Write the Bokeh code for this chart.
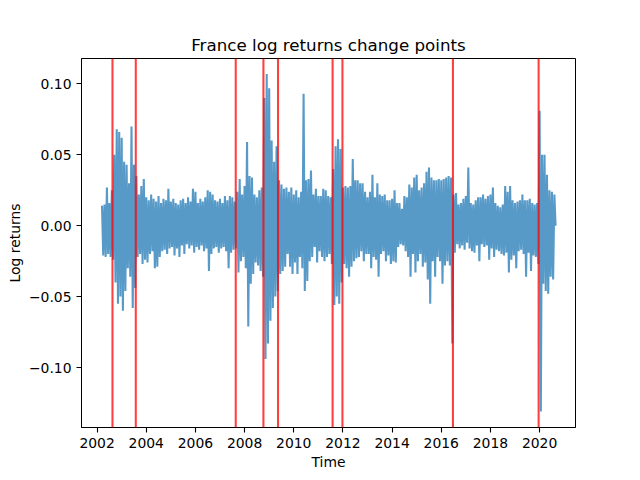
import numpy as np
from bokeh.plotting import figure
from bokeh.models import Range1d, FixedTicker, CustomJSTickFormatter, Span
from bokeh.embed import file_html
from bokeh.resources import INLINE

# ---------------- data ----------------
# Samples every 0.1 year starting at 2002.2; for each sample the upper and
# lower extreme of the daily log returns seen in that slice of the chart.
first_sample_year = 2002.2
sample_step = 0.1

hi = [
    # 2002.2 - 2002.6
    0.014, 0.015, 0.027, 0.016, 0.025,
    # 2002.7 - 2003.5
    0.050, 0.068, 0.066, 0.062, 0.045, 0.043, 0.030, 0.070, 0.043,
    # 2003.6 - 2007.6
    0.035, 0.022, 0.028, 0.033, 0.020, 0.018, 0.022, 0.019, 0.017, 0.021,
    0.016, 0.019, 0.018, 0.026, 0.017, 0.019, 0.016, 0.015, 0.018, 0.019,
    0.016, 0.020, 0.017, 0.026, 0.024, 0.016, 0.019, 0.017, 0.020, 0.025,
    0.024, 0.022, 0.018, 0.017, 0.019, 0.016, 0.021, 0.018, 0.021, 0.020,
    0.017,
    # 2007.7 - 2008.7
    0.024, 0.033, 0.022, 0.028, 0.059, 0.035, 0.034, 0.022, 0.020, 0.025, 0.027,
    # 2008.8 - 2009.3
    0.090, 0.107, 0.097, 0.060, 0.045, 0.056,
    # 2009.4 - 2011.5
    0.032, 0.029, 0.026, 0.027, 0.024, 0.027, 0.022, 0.025, 0.020, 0.024,
    0.093, 0.032, 0.033, 0.039, 0.022, 0.026, 0.021, 0.021, 0.026, 0.025,
    0.021, 0.020,
    # 2011.6 - 2011.9
    0.040, 0.056, 0.061, 0.054,
    # 2012.0 - 2016.4
    0.027, 0.028, 0.027, 0.028, 0.047, 0.032, 0.032, 0.030, 0.030, 0.024,
    0.020, 0.024, 0.036, 0.020, 0.030, 0.022, 0.021, 0.022, 0.018, 0.018,
    0.019, 0.025, 0.016, 0.016, 0.012, 0.021, 0.020, 0.029, 0.027, 0.034,
    0.036, 0.025, 0.027, 0.030, 0.038, 0.041, 0.034, 0.032, 0.032, 0.033,
    0.032, 0.033, 0.034, 0.035, 0.034,
    # 2016.5 - 2019.9
    0.022, 0.023, 0.015, 0.016, 0.019,
    0.021, 0.041, 0.016, 0.015, 0.018, 0.020, 0.020, 0.022, 0.019, 0.021,
    0.022, 0.027, 0.016, 0.014, 0.013, 0.015, 0.028, 0.024, 0.028, 0.018,
    0.016, 0.017, 0.018, 0.022, 0.018, 0.018, 0.019, 0.016, 0.015, 0.016,
    # 2020.0 - 2020.6
    0.081, 0.050, 0.050, 0.036, 0.025, 0.024, 0.022,
]

lo = [
    # 2002.2 - 2002.6
    -0.021, -0.022, -0.020, -0.022, -0.024,
    # 2002.7 - 2003.5
    -0.040, -0.055, -0.050, -0.060, -0.046, -0.030, -0.036, -0.058, -0.044,
    # 2003.6 - 2007.6
    -0.022, -0.020, -0.027, -0.024, -0.026, -0.020, -0.018, -0.030, -0.029, -0.022,
    -0.018, -0.017, -0.020, -0.016, -0.015, -0.021, -0.016, -0.022, -0.014, -0.020,
    -0.013, -0.016, -0.014, -0.019, -0.015, -0.017, -0.014, -0.018, -0.016, -0.032,
    -0.020, -0.016, -0.015, -0.019, -0.016, -0.015, -0.018, -0.030, -0.019, -0.017,
    -0.016,
    # 2007.7 - 2008.7
    -0.033, -0.025, -0.022, -0.030, -0.071, -0.041, -0.034, -0.026, -0.028, -0.032, -0.036,
    # 2008.8 - 2009.3
    -0.094, -0.083, -0.067, -0.058, -0.050, -0.046,
    # 2009.4 - 2011.5
    -0.034, -0.032, -0.029, -0.020, -0.029, -0.034, -0.026, -0.034, -0.022, -0.030,
    -0.046, -0.039, -0.025, -0.022, -0.015, -0.026, -0.018, -0.022, -0.025, -0.022,
    -0.020, -0.027,
    # 2011.6 - 2011.9
    -0.056, -0.050, -0.055, -0.040,
    # 2012.0 - 2016.4
    -0.027, -0.030, -0.036, -0.029, -0.025, -0.023, -0.022, -0.018, -0.025, -0.020,
    -0.020, -0.030, -0.022, -0.024, -0.036, -0.020, -0.018, -0.025, -0.021, -0.027,
    -0.025, -0.026, -0.015, -0.013, -0.014, -0.018, -0.022, -0.036, -0.020, -0.033,
    -0.025, -0.020, -0.029, -0.026, -0.038, -0.055, -0.025, -0.036, -0.022, -0.025,
    -0.041, -0.028, -0.025, -0.028, -0.083,
    # 2016.5 - 2019.9
    -0.019, -0.013, -0.016, -0.014, -0.017,
    -0.012, -0.016, -0.018, -0.019, -0.014, -0.025, -0.013, -0.015, -0.014, -0.024,
    -0.016, -0.022, -0.017, -0.018, -0.020, -0.021, -0.019, -0.033, -0.024, -0.021,
    -0.030, -0.018, -0.017, -0.020, -0.036, -0.019, -0.032, -0.021, -0.022, -0.027,
    # 2020.0 - 2020.6
    -0.131, -0.041, -0.046, -0.048, -0.036, -0.038, 0.000,
]

change_points = [2002.626, 2003.574, 2007.64, 2008.766, 2009.36,
                 2011.58, 2011.98, 2016.475, 2019.96]

year_ticks = [2002, 2004, 2006, 2008, 2010, 2012, 2014, 2016, 2018, 2020]
return_ticks = [-0.10, -0.05, 0.00, 0.05, 0.10]

title_text = "France log returns change points"
x_label = "Time"
y_label = "Log returns"

# ---------------- build the series ----------------
assert len(hi) == len(lo)
n = len(hi)
t_hi = first_sample_year + sample_step * np.arange(n)
t_lo = t_hi + sample_step / 2
times = np.empty(2 * n)
vals = np.empty(2 * n)
times[0::2] = t_hi
times[1::2] = t_lo
vals[0::2] = hi
vals[1::2] = lo

# ---------------- figure ----------------
FONT = "DejaVu Sans"
p = figure(
    width=640, height=480,
    output_backend="svg", toolbar_location=None,
    x_range=Range1d(2001.366, 2021.46),
    y_range=Range1d(-0.1423, 0.1179),
    min_border_left=81, min_border_right=65,
    min_border_top=58, min_border_bottom=53,
    title=title_text,
)
p.background_fill_color = "white"
p.border_fill_color = "white"
p.outline_line_color = "black"
p.outline_line_width = 1
p.xgrid.visible = False
p.ygrid.visible = False

p.title.text_font = FONT
p.title.text_font_size = "16.7px"
p.title.text_font_style = "normal"
p.title.text_color = "black"
p.title.align = "center"
p.title.standoff = 8

p.line(times, vals, line_color="#1f77b4", line_alpha=0.75, line_width=2.08)

for cp in change_points:
    p.add_layout(Span(location=cp, dimension="height", line_color="red",
                      line_alpha=0.75, line_width=2.08))

for ax in (p.xaxis[0], p.yaxis[0]):
    ax.axis_line_color = "black"
    ax.axis_line_width = 1
    ax.major_tick_line_color = "black"
    ax.major_tick_line_width = 1.1
    ax.major_tick_out = 5
    ax.major_tick_in = 0
    ax.minor_tick_line_color = None
    ax.major_label_text_font = FONT
    ax.major_label_text_font_size = "13.9px"
    ax.major_label_text_color = "black"
    ax.axis_label_text_font = FONT
    ax.axis_label_text_font_size = "13.9px"
    ax.axis_label_text_font_style = "normal"
    ax.axis_label_text_color = "black"
    ax.major_label_standoff = 5

p.xaxis[0].ticker = FixedTicker(ticks=year_ticks)
p.xaxis[0].axis_label = x_label
p.xaxis[0].axis_label_standoff = 3
p.yaxis[0].ticker = FixedTicker(ticks=return_ticks)
p.yaxis[0].formatter = CustomJSTickFormatter(
    code="return tick.toFixed(2).replace('-', '\u2212');")
p.yaxis[0].axis_label = y_label
p.yaxis[0].axis_label_standoff = 3

open("out.html", "w").write(file_html(p, INLINE))
